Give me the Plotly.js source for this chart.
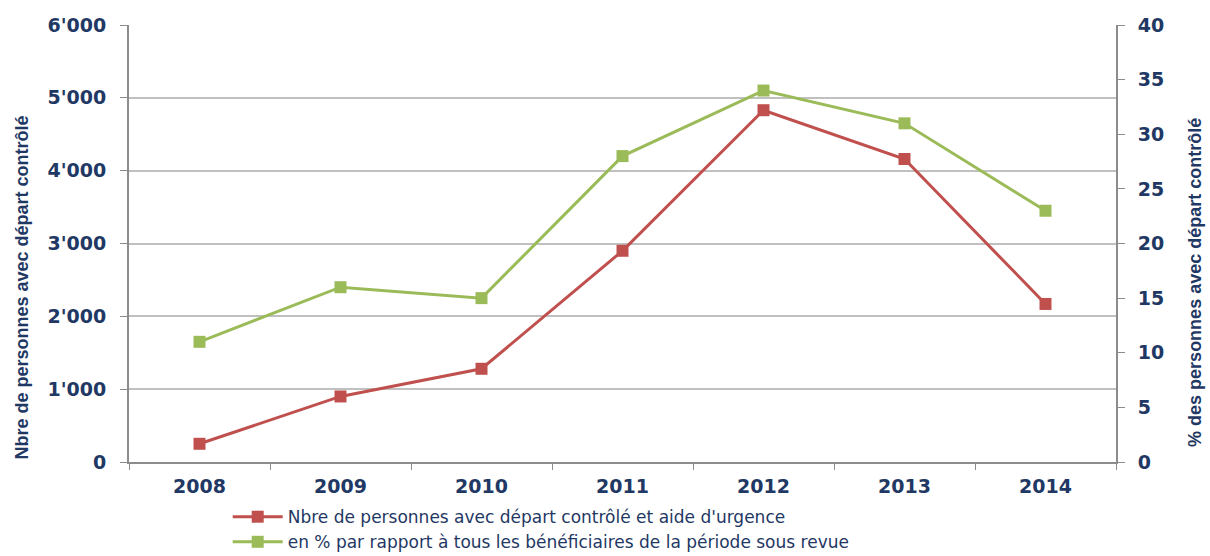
<!DOCTYPE html>
<html>
<head>
<meta charset="utf-8">
<script src="https://cdn.plot.ly/plotly-3.0.1.min.js"></script>
<style>html,body{margin:0;padding:0;background:#fff;}#chart{width:1210px;height:556px;}</style>
</head>
<body>
<div id="chart"></div>
<script>
const years = ['2008', '2009', '2010', '2011', '2012', '2013', '2014'];
const persons = [250, 900, 1280, 2900, 4830, 4160, 2170];
const percent = [11, 16, 15, 28, 34, 31, 23];
const leftTicks = [0, 1000, 2000, 3000, 4000, 5000, 6000];
const rightTicks = [0, 5, 10, 15, 20, 25, 30, 35, 40];
const leftTitle = 'Nbre de personnes avec départ contrôlé';
const rightTitle = '% des personnes avec départ contrôlé';

const navy = '#1F3864';
const tickFont = {family: 'DejaVu Sans, sans-serif', size: 19, color: navy, weight: 'bold'};
const titleFont = {family: 'Liberation Sans, Arial, sans-serif', size: 18, color: navy, weight: 'bold'};

const traces = [
  {
    x: years, y: persons, type: 'scatter', mode: 'lines+markers',
    name: 'Nbre de personnes avec départ contrôlé et aide d\'urgence',
    line: {color: '#C0504D', width: 3},
    marker: {symbol: 'square', size: 12, color: '#C0504D'},
    yaxis: 'y'
  },
  {
    x: years, y: percent, type: 'scatter', mode: 'lines+markers',
    name: 'en % par rapport à tous les bénéficiaires de la période sous revue',
    line: {color: '#9BBB59', width: 3},
    marker: {symbol: 'square', size: 12, color: '#9BBB59'},
    yaxis: 'y2'
  }
];

const layout = {
  width: 1210, height: 556,
  margin: {l: 129, r: 94, t: 25, b: 94, autoexpand: false},
  paper_bgcolor: '#fff', plot_bgcolor: '#fff',
  separators: ".'",
  showlegend: true,
  legend: {
    orientation: 'v', x: 0.1, y: -0.085, xanchor: 'left', yanchor: 'top',
    font: {family: 'DejaVu Sans, sans-serif', size: 17, color: navy},
    itemwidth: 50, bgcolor: 'rgba(0,0,0,0)'
  },
  xaxis: {
    type: 'category', range: [-0.5, 6.5],
    showgrid: false, showline: true, linecolor: '#8C8C8C', linewidth: 2,
    ticks: 'outside', ticklen: 6, tickcolor: '#8C8C8C', tickson: 'boundaries',
    tickfont: tickFont, ticklabelstandoff: 6
  },
  yaxis: {
    range: [0, 6000], tickvals: leftTicks, tickformat: ',d',
    showgrid: true, gridcolor: '#C0C0C0', gridwidth: 2,
    showline: true, linecolor: '#8C8C8C', linewidth: 2,
    ticks: 'outside', ticklen: 7, tickcolor: '#8C8C8C',
    tickfont: tickFont, zeroline: false, ticklabelstandoff: 10
  },
  yaxis2: {
    range: [0, 40], tickvals: rightTicks, overlaying: 'y', side: 'right',
    showgrid: false, showline: true, linecolor: '#8C8C8C', linewidth: 2,
    ticks: 'outside', ticklen: 7, tickcolor: '#8C8C8C',
    tickfont: tickFont, zeroline: false, ticklabelstandoff: 9
  },
  annotations: [
    {text: '<b>' + leftTitle + '</b>', xref: 'paper', yref: 'paper', x: -0.108, y: 0.40,
     xanchor: 'center', yanchor: 'middle', textangle: -90, showarrow: false, font: titleFont},
    {text: '<b>' + rightTitle + '</b>', xref: 'paper', yref: 'paper', x: 1.08, y: 0.412,
     xanchor: 'center', yanchor: 'middle', textangle: -90, showarrow: false, font: titleFont}
  ]
};

Plotly.newPlot('chart', traces, layout, {displayModeBar: false, staticPlot: true});
</script>
</body>
</html>
